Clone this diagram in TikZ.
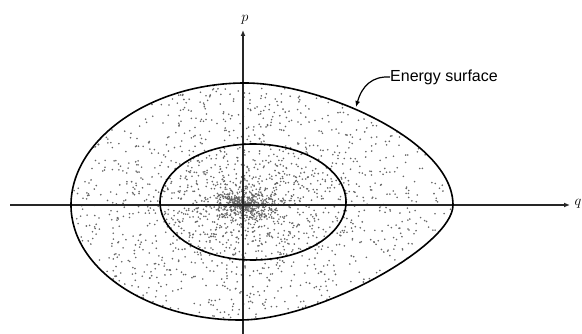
\documentclass[tikz,border=0pt]{standalone}
\usepackage{fontspec}
\setsansfont{Liberation Sans}
\usetikzlibrary{arrows.meta}
\begin{document}
\begin{tikzpicture}[x=1pt,y=-1pt,
  axis/.style={line width=1.3pt,draw=black!85},
  curve/.style={line width=1.6pt,draw=black},
  dotstyle/.style={fill=black!60,draw=none},
  lbl/.style={inner sep=0pt,font=\sffamily\fontsize{16}{18}\selectfont},
  axlbl/.style={inner sep=0pt,font=\fontsize{14}{16}\selectfont}]
\useasboundingbox (0,0) rectangle (582,334);
\def\outerpath{(71,205) .. controls (71,140) and (150,83) .. (245,83)
  .. controls (320,83) and (453,140) .. (453,205)
  .. controls (453,245) and (320,320) .. (240,320)
  .. controls (150,320) and (71,270) .. (71,205) -- cycle}
% dots, clipped to the outer curve
\begin{scope}
\clip \outerpath;
\pgfmathsetseed{12345}
\foreach \i in {1,...,2200}{
  \pgfmathsetmacro{\rr}{rnd}
  \pgfmathsetmacro{\aa}{360*rnd}
  \pgfmathsetmacro{\px}{245+215*\rr*cos(\aa)}
  \pgfmathsetmacro{\py}{205+135*\rr*sin(\aa)}
  \fill[dotstyle] (\px,\py) circle (0.9pt);
}
\foreach \i in {1,...,300}{
  \pgfmathsetmacro{\rr}{rnd}
  \pgfmathsetmacro{\aa}{360*rnd}
  \pgfmathsetmacro{\px}{245+30*\rr*cos(\aa)}
  \pgfmathsetmacro{\py}{205+20*\rr*sin(\aa)}
  \fill[dotstyle] (\px,\py) circle (0.8pt);
}
\end{scope}
% axes
\coordinate (xl) at (10,205);
\coordinate (xr) at (570,205);
\coordinate (yb) at (243,334);
\coordinate (yt) at (243,30);
\draw[axis,-{Latex[length=6pt,width=5pt]}] (xl) -- (xr);
\draw[axis,-{Latex[length=6pt,width=5pt]}] (yb) -- (yt);
\node[axlbl] (q) at (578,204) {$q$};
\node[axlbl] (p) at (245,20) {$p$};
% inner ellipse
\draw[curve] (253,202) ellipse [x radius=93, y radius=58];
% outer energy surface
\draw[curve] \outerpath;
% label
\node[lbl,anchor=west] (es) at (390,77) {Energy surface};
\coordinate (tip) at (356,107);
\draw[line width=1.2pt,-{Latex[length=6pt,width=5pt]}] (es.west) .. controls (372,76) and (362,86) .. (tip);
\end{tikzpicture}
\end{document}
